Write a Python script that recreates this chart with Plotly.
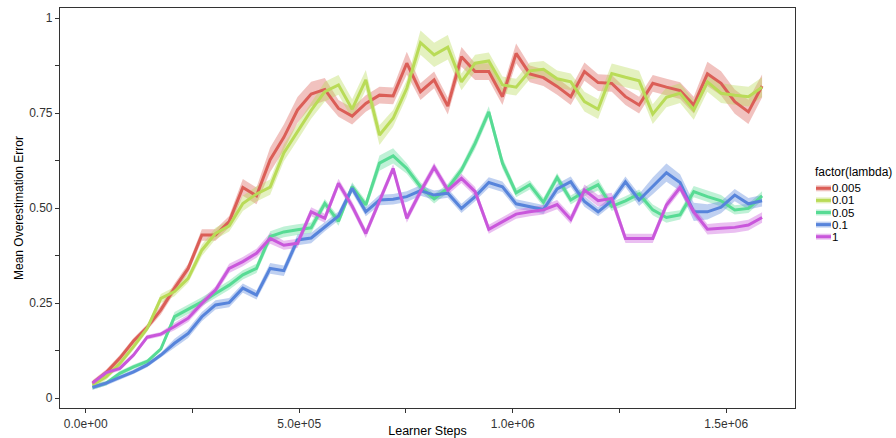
import plotly.graph_objects as go

# ---------------- data ----------------
steps = [16000 + 32000 * i for i in range(50)]

lambda_labels = ["0.005", "0.01", "0.05", "0.1", "1"]
colors = ["#db5e57", "#b9db57", "#57db94", "#5784db", "#c957db"]

mean_0005 = [0.039, 0.067, 0.105, 0.150, 0.186, 0.232, 0.289, 0.341, 0.429, 0.429,
             0.464, 0.554, 0.532, 0.627, 0.686, 0.758, 0.800, 0.812, 0.762, 0.742,
             0.775, 0.797, 0.795, 0.881, 0.806, 0.837, 0.768, 0.898, 0.859, 0.859,
             0.793, 0.907, 0.853, 0.843, 0.820, 0.793, 0.859, 0.830, 0.828, 0.793,
             0.771, 0.828, 0.818, 0.809, 0.771, 0.853, 0.828, 0.780, 0.753, 0.821]
mean_001 = [0.034, 0.056, 0.091, 0.135, 0.183, 0.262, 0.280, 0.315, 0.389, 0.433,
            0.453, 0.512, 0.537, 0.555, 0.645, 0.700, 0.757, 0.806, 0.824, 0.760,
            0.837, 0.692, 0.736, 0.815, 0.935, 0.903, 0.923, 0.832, 0.881, 0.887,
            0.824, 0.818, 0.861, 0.865, 0.840, 0.832, 0.780, 0.760, 0.854, 0.844,
            0.835, 0.747, 0.791, 0.802, 0.758, 0.832, 0.802, 0.797, 0.793, 0.818]
mean_005 = [0.028, 0.039, 0.065, 0.082, 0.096, 0.129, 0.214, 0.233, 0.253, 0.275,
            0.297, 0.324, 0.341, 0.425, 0.437, 0.443, 0.448, 0.512, 0.465, 0.556,
            0.508, 0.618, 0.637, 0.604, 0.556, 0.524, 0.552, 0.600, 0.670, 0.753,
            0.618, 0.540, 0.561, 0.515, 0.580, 0.521, 0.543, 0.561, 0.504, 0.519,
            0.537, 0.495, 0.475, 0.482, 0.543, 0.530, 0.519, 0.495, 0.499, 0.532]
mean_01 = [0.028, 0.039, 0.054, 0.069, 0.087, 0.113, 0.144, 0.170, 0.214, 0.245,
           0.251, 0.289, 0.271, 0.341, 0.335, 0.416, 0.421, 0.451, 0.479, 0.552,
           0.490, 0.521, 0.523, 0.530, 0.546, 0.534, 0.539, 0.499, 0.530, 0.567,
           0.556, 0.511, 0.503, 0.496, 0.550, 0.569, 0.517, 0.490, 0.519, 0.569,
           0.521, 0.558, 0.593, 0.567, 0.490, 0.490, 0.502, 0.534, 0.511, 0.519]
mean_1 = [0.039, 0.067, 0.078, 0.113, 0.160, 0.168, 0.188, 0.210, 0.249, 0.284,
          0.341, 0.359, 0.381, 0.420, 0.402, 0.407, 0.490, 0.473, 0.565, 0.505,
          0.433, 0.521, 0.604, 0.473, 0.543, 0.607, 0.547, 0.578, 0.543, 0.444,
          0.464, 0.484, 0.490, 0.495, 0.509, 0.470, 0.547, 0.519, 0.525, 0.420,
          0.420, 0.420, 0.508, 0.554, 0.490, 0.444, 0.447, 0.449, 0.455, 0.475]

# half-width of the shaded band around each mean
se_0005 = [0.008, 0.008, 0.008, 0.008, 0.008, 0.012, 0.012, 0.012, 0.015, 0.015,
           0.015, 0.022, 0.022, 0.032, 0.034, 0.034, 0.032, 0.030, 0.022, 0.022,
           0.022, 0.022, 0.022, 0.030, 0.022, 0.022, 0.022, 0.026, 0.022, 0.022,
           0.022, 0.026, 0.022, 0.022, 0.022, 0.022, 0.024, 0.022, 0.022, 0.022,
           0.022, 0.022, 0.022, 0.022, 0.022, 0.032, 0.032, 0.032, 0.032, 0.030]
se_001 = [0.008, 0.008, 0.008, 0.008, 0.008, 0.012, 0.012, 0.012, 0.015, 0.015,
          0.015, 0.020, 0.020, 0.020, 0.022, 0.022, 0.022, 0.026, 0.026, 0.026,
          0.026, 0.026, 0.022, 0.022, 0.032, 0.032, 0.032, 0.022, 0.022, 0.022,
          0.022, 0.022, 0.022, 0.022, 0.022, 0.022, 0.026, 0.026, 0.026, 0.026,
          0.026, 0.026, 0.026, 0.026, 0.026, 0.026, 0.026, 0.026, 0.026, 0.026]
se_005 = [0.006, 0.006, 0.006, 0.006, 0.006, 0.006, 0.012, 0.012, 0.012, 0.012,
          0.012, 0.012, 0.012, 0.014, 0.014, 0.014, 0.014, 0.012, 0.012, 0.012,
          0.012, 0.020, 0.020, 0.014, 0.012, 0.012, 0.012, 0.012, 0.015, 0.015,
          0.015, 0.012, 0.012, 0.012, 0.012, 0.012, 0.012, 0.015, 0.012, 0.012,
          0.012, 0.014, 0.014, 0.012, 0.015, 0.015, 0.015, 0.012, 0.012, 0.012]
se_01 = [0.006, 0.006, 0.006, 0.006, 0.006, 0.006, 0.012, 0.012, 0.012, 0.012,
         0.012, 0.012, 0.012, 0.014, 0.014, 0.014, 0.014, 0.012, 0.012, 0.012,
         0.012, 0.014, 0.014, 0.014, 0.014, 0.012, 0.012, 0.012, 0.012, 0.014,
         0.014, 0.012, 0.012, 0.012, 0.014, 0.014, 0.014, 0.012, 0.012, 0.014,
         0.016, 0.022, 0.024, 0.022, 0.024, 0.020, 0.016, 0.016, 0.015, 0.015]
se_1 = [0.006, 0.006, 0.006, 0.006, 0.006, 0.006, 0.010, 0.010, 0.010, 0.010,
        0.012, 0.012, 0.012, 0.014, 0.012, 0.012, 0.012, 0.012, 0.012, 0.012,
        0.012, 0.012, 0.012, 0.012, 0.012, 0.012, 0.012, 0.012, 0.012, 0.012,
        0.012, 0.012, 0.012, 0.012, 0.012, 0.012, 0.015, 0.015, 0.015, 0.012,
        0.012, 0.012, 0.012, 0.012, 0.012, 0.014, 0.014, 0.014, 0.014, 0.014]

means = [mean_0005, mean_001, mean_005, mean_01, mean_1]
ses = [se_0005, se_001, se_005, se_01, se_1]

x_tickvals = [0, 500000, 1000000, 1500000]
x_ticktext = ["0.0e+00", "5.0e+05", "1.0e+06", "1.5e+06"]
y_tickvals = [0, 0.25, 0.5, 0.75, 1]
y_ticktext = ["0", "0.25", "0.50", "0.75", "1"]

# ---------------- figure ----------------
W, H = 896, 438
L, R, T, B = 60, 795, 8, 408
FONT = "Liberation Sans, Arial, Helvetica, sans-serif"


def rgba(hexc, a):
    hexc = hexc.lstrip("#")
    r, g, b = int(hexc[0:2], 16), int(hexc[2:4], 16), int(hexc[4:6], 16)
    return f"rgba({r},{g},{b},{a})"


fig = go.Figure()

for m, s, c in zip(means, ses, colors):
    upper = [a + b for a, b in zip(m, s)]
    lower = [a - b for a, b in zip(m, s)]
    fig.add_trace(go.Scatter(
        x=steps + steps[::-1], y=upper + lower[::-1],
        fill="toself", fillcolor=rgba(c, 0.38), line=dict(width=0),
        mode="lines", hoverinfo="skip", showlegend=False))

for m, c, lab in zip(means, colors, lambda_labels):
    fig.add_trace(go.Scatter(
        x=steps, y=m, mode="lines", name=lab,
        line=dict(color=c, width=3), showlegend=False))


def px_to_paper_x(px):
    return (px - L) / (R - L)


def px_to_paper_y(py):
    return (B - py) / (B - T)


# manual legend (compact like ggplot)
LEG_FS = 11.5
annotations = [dict(
    text="factor(lambda)", x=px_to_paper_x(814), y=px_to_paper_y(172),
    xref="paper", yref="paper", xanchor="left", yanchor="middle",
    showarrow=False, borderpad=0, font=dict(family=FONT, size=12, color="#000"))]
shapes = []
for k, (lab, c) in enumerate(zip(lambda_labels, colors)):
    yc = 188.3 + 12.1 * k
    annotations.append(dict(
        text=lab, x=px_to_paper_x(831), y=px_to_paper_y(yc),
        xref="paper", yref="paper", xanchor="left", yanchor="middle",
        showarrow=False, borderpad=0,
        font=dict(family=FONT, size=LEG_FS, color="#000")))
    shapes.append(dict(
        type="rect", xref="paper", yref="paper",
        x0=px_to_paper_x(816), x1=px_to_paper_x(831),
        y0=px_to_paper_y(yc - 3), y1=px_to_paper_y(yc + 3),
        fillcolor=rgba(c, 0.38), line=dict(width=0)))
    shapes.append(dict(
        type="line", xref="paper", yref="paper",
        x0=px_to_paper_x(816), x1=px_to_paper_x(831),
        y0=px_to_paper_y(yc), y1=px_to_paper_y(yc),
        line=dict(color=c, width=3)))

axis_common = dict(
    showgrid=False, zeroline=False, showline=True, mirror=True,
    linecolor="#333333", linewidth=1.2, ticks="outside", ticklen=4,
    tickcolor="#333333", tickwidth=1,
    tickfont=dict(family=FONT, size=12, color="#333333"),
)

fig.update_layout(
    width=W, height=H,
    margin=dict(l=L, r=W - R, t=T, b=H - B, autoexpand=False),
    paper_bgcolor="white", plot_bgcolor="white",
    showlegend=False,
    annotations=annotations, shapes=shapes,
    xaxis=dict(
        **axis_common,
        range=[(L - 85.7) / 427e-6, (R - 85.7) / 427e-6],
        tickvals=x_tickvals, ticktext=x_ticktext,
        minor=dict(ticks="outside", dtick=250000, tick0=0, ticklen=4,
                   tickcolor="#333333"),
        title=dict(text="Learner Steps", standoff=3,
                   font=dict(family=FONT, size=12.5, color="#000")),
        automargin=False,
    ),
    yaxis=dict(
        **axis_common,
        range=[(398 - B) / 380, (398 - T) / 380],
        tickvals=y_tickvals, ticktext=y_ticktext,
        minor=dict(ticks="outside", dtick=0.125, tick0=0, ticklen=4,
                   tickcolor="#333333"),
        title=dict(text="Mean Overestimation Error", standoff=2,
                   font=dict(family=FONT, size=12, color="#000")),
        automargin=False,
    ),
)

fig.write_html(
    "out.html",
    config={"displayModeBar": False},
    post_script="document.body.style.margin='0';document.body.style.padding='0';",
)
